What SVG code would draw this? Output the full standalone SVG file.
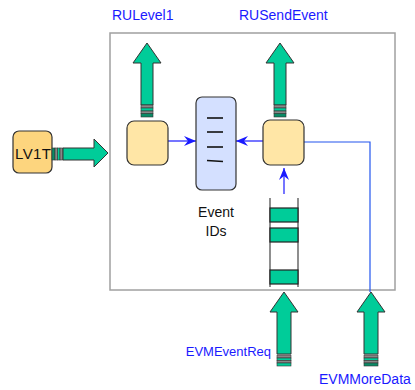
<svg xmlns="http://www.w3.org/2000/svg" width="415" height="390" viewBox="0 0 415 390">
<defs>
<style>
.frame{fill:#fff;stroke:#a0a0a0;stroke-width:1.5}
.box{fill:#ffe6a6;stroke:#333;stroke-width:1.2}
.lv{fill:#fdd57e;stroke:#333;stroke-width:1.2}
.ev{fill:#d4e0ff;stroke:#333;stroke-width:1.2}
.garrow{fill:#00cc99;stroke:#333;stroke-width:1}
.gs{fill:#888;stroke:#333;stroke-width:0.6}
.gg{fill:#00cc99;stroke:#333;stroke-width:0.6}
.gd{fill:#0a8a66;stroke:#333;stroke-width:0.6}
.bar{fill:#00cc99;stroke:#222;stroke-width:1.2}
.qline{stroke:#444;stroke-width:1.2}
.blue{stroke:#1a1aff;stroke-width:1.2;fill:none}
.lbl{font-family:"Liberation Sans",Arial,sans-serif;font-size:14px;fill:#1a1aff}
.txt{font-family:"Liberation Sans",Arial,sans-serif;font-size:14px;fill:#111}
.dash{stroke:#111;stroke-width:1.6}
</style>
<marker id="ah" viewBox="0 0 12 10" refX="12" refY="5" markerWidth="12" markerHeight="10" markerUnits="userSpaceOnUse" orient="auto">
<path d="M0,0 L12,5 L0,10 L4,5 Z" fill="#1a1aff"/>
</marker>
</defs>

<rect class="frame" x="110" y="33" width="285" height="257"/>

<g id="connectors">
<line class="blue" x1="168" y1="141" x2="196" y2="141" marker-end="url(#ah)"/>
<line class="blue" x1="263" y1="141" x2="236" y2="141" marker-end="url(#ah)"/>
<line class="blue" x1="284" y1="194" x2="284" y2="168" marker-end="url(#ah)"/>
<polyline class="blue" points="304,142 370,142 370,292" style="stroke:#2255ee"/>
</g>

<g id="LV1T">
<rect class="lv" x="13" y="131" width="39" height="42" rx="6"/>
<text class="txt" x="15" y="159" textLength="36" style="font-size:15px">LV1T</text>
</g>

<g id="LV1T-arrow">
<rect class="gd" x="52" y="148" width="3" height="12"/>
<rect class="gs" x="55" y="148" width="2.5" height="12"/>
<rect class="gg" x="57.5" y="148" width="2.5" height="12"/>
<rect class="gs" x="60" y="148" width="3" height="12"/>
<path class="garrow" d="M108,153 L94,139 L94,148 L63,148 L63,160 L94,160 L94,167 Z"/>
</g>

<g id="RULevel1">
<path class="garrow" d="M147,43 L161,63 L153,63 L153,105 L141,105 L141,63 L133,63 Z"/>
<rect class="gs" x="141" y="105" width="12" height="3"/>
<rect class="gg" x="141" y="108" width="12" height="3"/>
<rect class="gs" x="141" y="111" width="12" height="2.5"/>
<rect class="gd" x="141" y="113.5" width="12" height="3.5"/>
<text class="lbl" x="112" y="20">RULevel1</text>
</g>

<g id="RUSendEvent">
<path class="garrow" d="M280,43 L294,63 L286,63 L286,105 L274,105 L274,63 L266,63 Z"/>
<rect class="gs" x="274" y="105" width="12" height="3"/>
<rect class="gg" x="274" y="108" width="12" height="3"/>
<rect class="gs" x="274" y="111" width="12" height="2.5"/>
<rect class="gd" x="274" y="113.5" width="12" height="3.5"/>
<text class="lbl" x="239" y="20">RUSendEvent</text>
</g>

<g id="left-box">
<rect class="box" x="127" y="121" width="41" height="44" rx="7"/>
</g>

<g id="right-box">
<rect class="box" x="263" y="120" width="41" height="45" rx="7"/>
</g>

<g id="event-ids">
<rect class="ev" x="196" y="97" width="40" height="93" rx="6"/>
<line class="dash" x1="207" y1="118" x2="223" y2="118"/>
<line class="dash" x1="207" y1="132" x2="223" y2="132"/>
<line class="dash" x1="207" y1="147" x2="223" y2="147"/>
<line class="dash" x1="207" y1="160.5" x2="223" y2="161.5"/>
<text class="txt" x="216" y="217" text-anchor="middle">Event</text>
<text class="txt" x="216" y="236" text-anchor="middle">IDs</text>
</g>

<g id="queue">
<line class="qline" x1="270" y1="198" x2="270" y2="287"/>
<line class="qline" x1="298" y1="198" x2="298" y2="287"/>
<rect class="bar" x="270" y="208" width="28" height="14"/>
<rect class="bar" x="270" y="228" width="28" height="14"/>
<rect class="bar" x="270" y="270" width="28" height="14"/>
</g>

<g id="EVMEventReq">
<path class="garrow" d="M284,292 L298,312 L291,312 L291,354 L277,354 L277,312 L270,312 Z"/>
<rect class="gs" x="277" y="355" width="14" height="3"/>
<rect class="gg" x="277" y="358" width="14" height="2.5"/>
<rect class="gs" x="277" y="360.5" width="14" height="2.5"/>
<rect class="gg" x="277" y="363" width="14" height="3"/>
<text class="lbl" x="271" y="356" text-anchor="end" style="font-size:13px">EVMEventReq</text>
</g>

<g id="EVMMoreData">
<path class="garrow" d="M371,292 L385,312 L378,312 L378,354 L364,354 L364,312 L357,312 Z"/>
<rect class="gs" x="364" y="355" width="14" height="3"/>
<rect class="gg" x="364" y="358" width="14" height="2.5"/>
<rect class="gs" x="364" y="360.5" width="14" height="2.5"/>
<rect class="gd" x="364" y="363" width="14" height="3"/>
<text class="lbl" x="319" y="384">EVMMoreData</text>
</g>
</svg>
